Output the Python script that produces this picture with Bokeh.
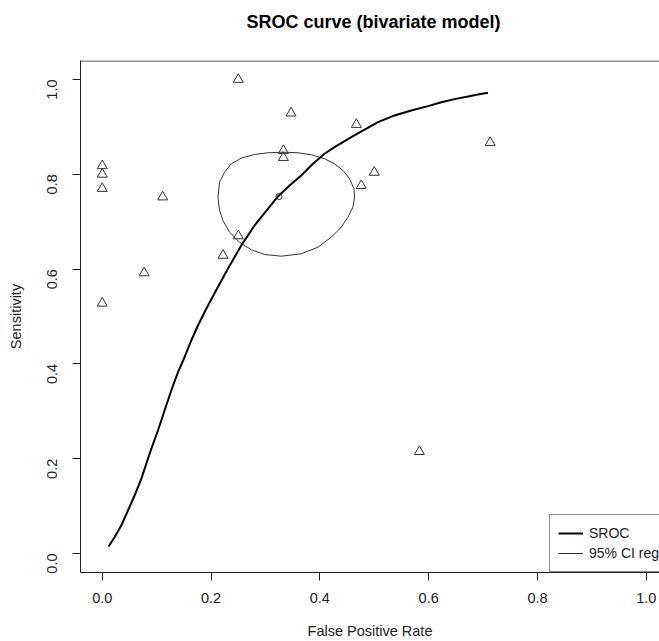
import math
from bokeh.plotting import figure
from bokeh.models import (Range1d, FixedTicker, Legend, LegendItem,
                          PrintfTickFormatter, Title, Span)
from bokeh.embed import file_html
from bokeh.resources import INLINE

# Study-level estimates (false positive rate, sensitivity)
study_fpr = [0.250, 0.347, 0.467, 0.000, 0.000, 0.000, 0.333, 0.333, 0.111,
             0.476, 0.500, 0.713, 0.250, 0.222, 0.077, 0.000, 0.583]
study_sens = [1.000, 0.929, 0.905, 0.818, 0.800, 0.770, 0.850, 0.835, 0.752,
              0.776, 0.804, 0.867, 0.670, 0.629, 0.592, 0.528, 0.215]

# Summary estimate of the bivariate model
summary_fpr = [0.325]
summary_sens = [0.753]

# SROC curve
sroc_fpr = [0.0116, 0.0226, 0.0349, 0.0472, 0.0594, 0.0717, 0.0809, 0.0901,
            0.1024, 0.1145, 0.1268, 0.1392, 0.1513, 0.1636, 0.1759, 0.1912,
            0.2064, 0.2248, 0.2310, 0.2555, 0.2800, 0.3015, 0.3230, 0.3443,
            0.3658, 0.3873, 0.4086, 0.4270, 0.4577, 0.5068, 0.5373, 0.5680,
            0.5987, 0.6232, 0.6476, 0.6722, 0.6906, 0.7090]
sroc_sens = [0.0148, 0.0344, 0.0591, 0.0907, 0.1224, 0.1575, 0.1892, 0.2209,
             0.2595, 0.3017, 0.3439, 0.3825, 0.4141, 0.4494, 0.4810, 0.5162,
             0.5490, 0.5880, 0.6006, 0.6500, 0.6920, 0.7226, 0.7532, 0.7764,
             0.7975, 0.8222, 0.8433, 0.8572, 0.8783, 0.9099, 0.9241, 0.9346,
             0.9437, 0.9521, 0.9585, 0.9641, 0.9684, 0.9719]

# 95% confidence region around the summary point
ci_fpr = [0.2127, 0.2156, 0.2248, 0.2371, 0.2555, 0.2800, 0.3046, 0.3322,
          0.3597, 0.3842, 0.4086, 0.4270, 0.4425, 0.4546, 0.4627, 0.4638,
          0.4608, 0.4517, 0.4393, 0.4210, 0.3965, 0.3658, 0.3290, 0.2983,
          0.2739, 0.2524, 0.2340, 0.2219, 0.2156, 0.2127]
ci_sens = [0.7517, 0.7833, 0.8044, 0.8222, 0.8340, 0.8418, 0.8454, 0.8466,
           0.8454, 0.8411, 0.8327, 0.8221, 0.8080, 0.7905, 0.7694, 0.7517,
           0.7306, 0.7095, 0.6884, 0.6673, 0.6462, 0.6323, 0.6272, 0.6308,
           0.6407, 0.6567, 0.6778, 0.7025, 0.7236, 0.7517]

tick_values = [0.0, 0.2, 0.4, 0.6, 0.8, 1.0]

FONT = "Liberation Sans"
INK = "#222222"
Y_LO, Y_HI = -0.04, 1.04

p = figure(width=659, height=641, output_backend="svg", toolbar_location=None,
           x_range=Range1d(-0.04, 1.0243), y_range=Range1d(Y_LO, Y_HI),
           min_border_left=80, min_border_right=0, min_border_top=60,
           min_border_bottom=69, x_axis_label="False Positive Rate",
           y_axis_label="Sensitivity")
p.outline_line_color = None
p.grid.visible = False
p.background_fill_color = "white"
p.border_fill_color = "white"

for ax in (p.xaxis[0], p.yaxis[0]):
    ax.ticker = FixedTicker(ticks=tick_values)
    ax.formatter = PrintfTickFormatter(format="%.1f")
    ax.axis_line_color = INK
    ax.axis_line_width = 1
    ax.major_tick_line_color = INK
    ax.major_tick_in = 0
    ax.major_tick_out = 8
    ax.minor_tick_line_color = None
    ax.major_label_text_font = FONT
    ax.major_label_text_font_size = "14.5px"
    ax.major_label_text_color = INK
    ax.axis_label_text_font = FONT
    ax.axis_label_text_font_size = "14.5px"
    ax.axis_label_text_font_style = "normal"
    ax.axis_label_text_color = INK

p.xaxis[0].major_label_standoff = 12
p.xaxis[0].axis_label_standoff = 17
p.yaxis[0].major_label_standoff = 20
p.yaxis[0].axis_label_standoff = 16
p.yaxis[0].major_label_orientation = math.pi / 2

# top edge of the plot box (kept a hair inside the frame)
p.add_layout(Span(location=Y_HI - 0.001, dimension="width", line_color=INK,
                  line_width=1))

# blank spacer between the box and the title, then the title itself
p.title = None
p.add_layout(Title(text=" ", text_font_size="1px", standoff=26), "above")
p.add_layout(Title(text="SROC curve (bivariate model)", align="left", offset=166,
                   text_font=FONT, text_font_size="18px", text_font_style="bold",
                   text_color="black", standoff=0), "above")

r_ci = p.line(ci_fpr, ci_sens, line_color="#333333", line_width=1)
r_sroc = p.line(sroc_fpr, sroc_sens, line_color="black", line_width=2)
p.scatter(study_fpr, study_sens, marker="triangle", size=10, fill_color=None,
          line_color="#333333", line_width=1)
p.scatter(summary_fpr, summary_sens, marker="circle", size=6, fill_color=None,
          line_color="#333333", line_width=1)

legend = Legend(items=[LegendItem(label="SROC", renderers=[r_sroc]),
                       LegendItem(label="95% CI region", renderers=[r_ci])],
                location=(469, 0), orientation="vertical", padding=8, spacing=0,
                margin=0, glyph_width=25, glyph_height=20, label_height=20,
                label_standoff=6, label_text_font=FONT, label_text_font_size="14px",
                label_text_color=INK, border_line_color=INK, border_line_width=1,
                background_fill_color="white", background_fill_alpha=1)
p.add_layout(legend, "center")

open("out.html", "w").write(file_html(p, INLINE))
